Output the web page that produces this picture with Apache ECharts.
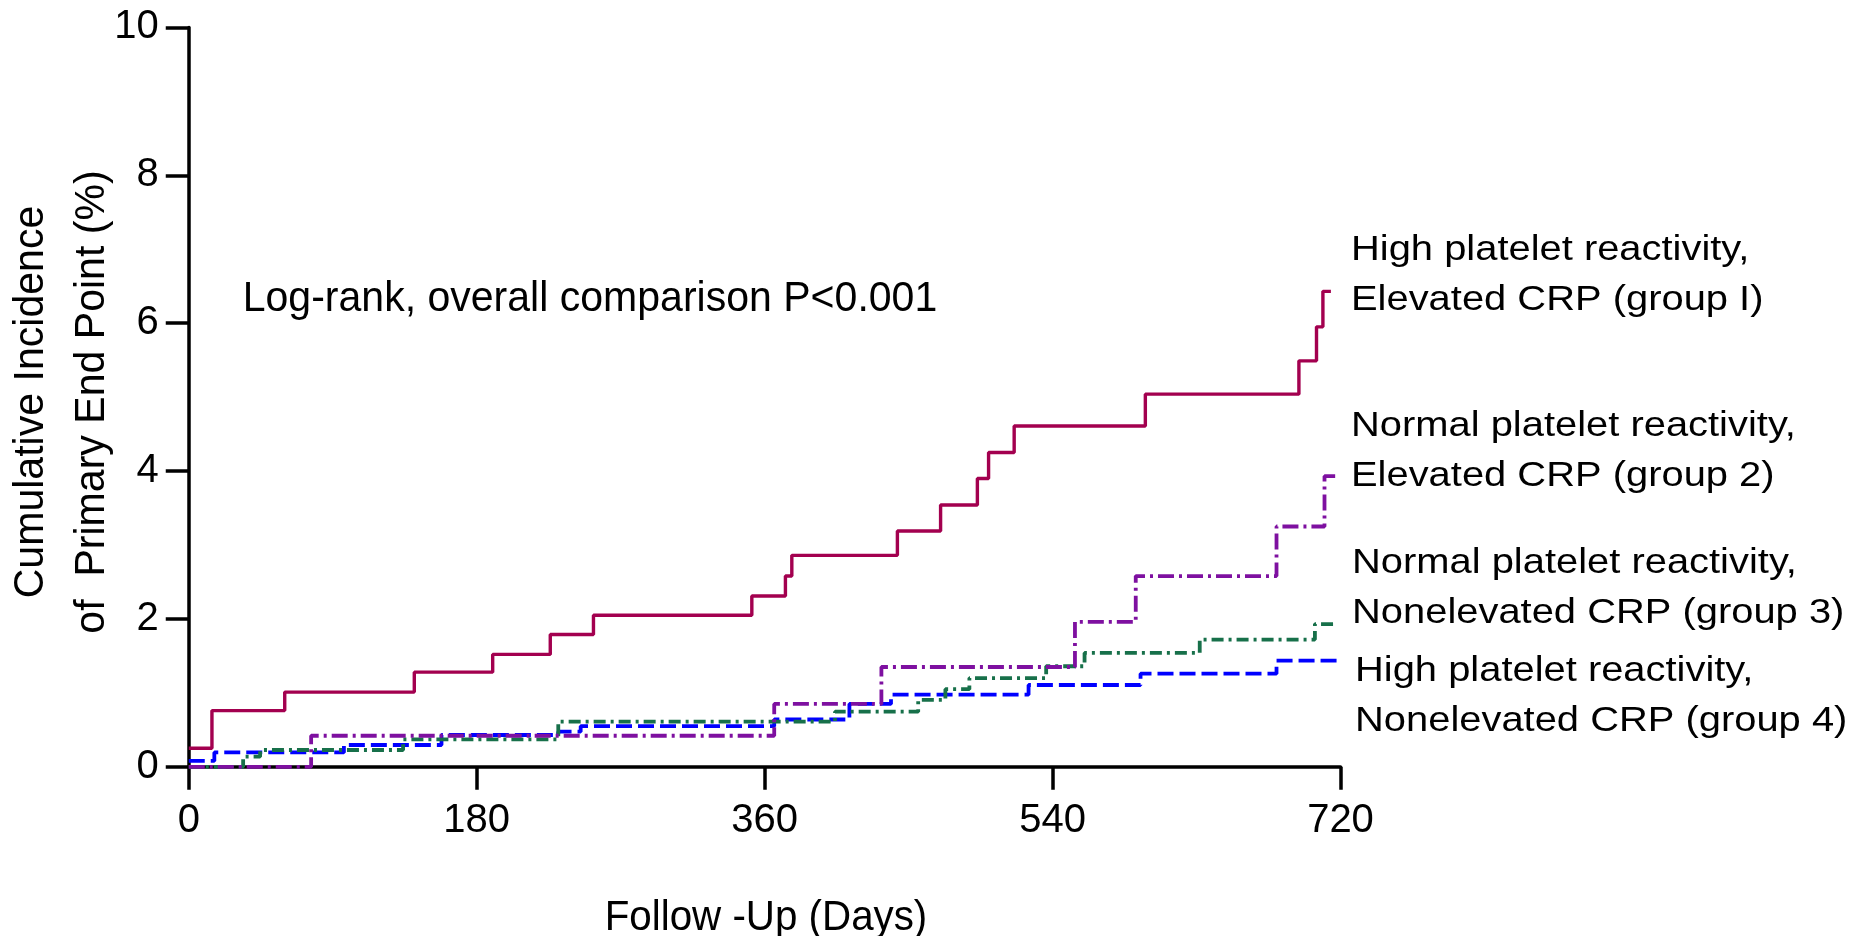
<!DOCTYPE html>
<html>
<head>
<meta charset="utf-8">
<script src="https://cdn.jsdelivr.net/npm/echarts@6.0.0/dist/echarts.min.js"></script>
<style>
html,body{margin:0;padding:0;background:#fff;}
#chart{width:1870px;height:936px;}
</style>
</head>
<body>
<div id="chart"></div>
<script>
// ---- Data ----
const xTicks = [0, 180, 360, 540, 720];
const yTicks = [0, 2, 4, 6, 8, 10];

const g1Days = [0, 14.5, 60, 141, 190, 226, 253, 352, 373, 377, 443, 470, 493, 500, 516, 598, 694, 705, 709, 714];
const g1Vals = [0.25, 0.76, 1.01, 1.28, 1.52, 1.79, 2.05, 2.31, 2.58, 2.86, 3.19, 3.54, 3.90, 4.25, 4.61, 5.04, 5.49, 5.95, 6.43, 6.43];

const g2Days = [0, 76.5, 366, 433, 554, 592, 680, 710, 718];
const g2Vals = [0, 0.42, 0.85, 1.35, 1.96, 2.58, 3.25, 3.93, 3.93];

const g3Days = [0, 34, 44.6, 134, 231, 404, 456, 473, 488, 536, 560, 632, 704, 717];
const g3Vals = [0, 0.137, 0.227, 0.37, 0.61, 0.745, 0.905, 1.05, 1.20, 1.36, 1.54, 1.72, 1.93, 1.93];

const g4Days = [0, 16, 97, 158, 231, 245, 366, 413, 439, 525, 595, 680, 720];
const g4Vals = [0.08, 0.195, 0.295, 0.43, 0.475, 0.55, 0.64, 0.85, 0.975, 1.106, 1.26, 1.435, 1.435];

const groupLabels = [
  'High platelet reactivity,\nElevated CRP (group I)',
  'Normal platelet reactivity,\nElevated CRP (group 2)',
  'Normal platelet reactivity,\nNonelevated CRP (group 3)',
  'High platelet reactivity,\nNonelevated CRP (group 4)'
];
const annotationText = 'Log-rank, overall comparison P<0.001';
const xTitle = 'Follow -Up (Days)';
const yTitle = 'Cumulative Incidence\nof  Primary End Point (%)';

function pairs(d, v) { return d.map((x, i) => [x, v[i]]); }

const FONT = '"Liberation Sans", Arial, Helvetica, sans-serif';

const chart = echarts.init(document.getElementById('chart'), null, {renderer: 'canvas'});

function stepSeries(name, days, vals, color, width, dash, z) {
  return {
    name: name, type: 'line', step: 'end', data: pairs(days, vals),
    showSymbol: false, symbol: 'none', z: z, clip: false,
    lineStyle: {color: color, width: width, type: dash},
    emphasis: {disabled: true}
  };
}

const option = {
  animation: false,
  backgroundColor: '#ffffff',
  grid: {left: 188.75, right: 529.5, top: 27.4, bottom: 169.2, containLabel: false},
  xAxis: {
    type: 'value', min: 0, max: 720, interval: 180,
    axisLine: {show: true, onZero: false, lineStyle: {color: '#000', width: 3.5}},
    axisTick: {show: true, inside: false, length: 23, lineStyle: {color: '#000', width: 3.5}},
    axisLabel: {color: '#000', fontSize: 40, fontFamily: FONT, margin: 34, lineHeight: 40,
      formatter: v => xTicks.includes(v) ? String(v) : ''},
    splitLine: {show: false}
  },
  yAxis: {
    type: 'value', min: 0, max: 10, interval: 2,
    axisLine: {show: true, onZero: false, lineStyle: {color: '#000', width: 3.5}},
    axisTick: {show: true, inside: false, length: 23, lineStyle: {color: '#000', width: 3.5}},
    axisLabel: {color: '#000', fontSize: 40, fontFamily: FONT, margin: 30,
      formatter: v => yTicks.includes(v) ? String(v) : ''},
    splitLine: {show: false}
  },
  series: [
    stepSeries('group 4', g4Days, g4Vals, '#0000FF', 3.8, [16, 6], 2),
    stepSeries('group 3', g3Days, g3Vals, '#17704A', 3.8, [12, 5, 3, 5], 3),
    stepSeries('group 2', g2Days, g2Vals, '#7E10A0', 3.8, [16, 5, 3, 5], 4),
    stepSeries('group I', g1Days, g1Vals, '#A3004F', 3.4, 'solid', 5)
  ],
  graphic: [
    {type: 'text', x: 242.7, y: 299, scaleX: 0.977,
      style: {text: annotationText, fontSize: 42, fontFamily: FONT, fill: '#000', align: 'left', verticalAlign: 'middle'}},
    {type: 'text', x: 766, y: 918, scaleX: 0.96,
      style: {text: xTitle, fontSize: 42, fontFamily: FONT, fill: '#000', align: 'center', verticalAlign: 'middle'}},
    {type: 'text', x: 61.5, y: 402, rotation: Math.PI / 2, scaleX: 0.955,
      style: {text: yTitle, fontSize: 43, lineHeight: 61, fontFamily: FONT, fill: '#000', align: 'center', verticalAlign: 'middle'}},
    {type: 'text', x: 1351, y: 275, scaleX: 1.14,
      style: {text: groupLabels[0], fontSize: 35, lineHeight: 50, fontFamily: FONT, fill: '#000', align: 'left', verticalAlign: 'middle'}},
    {type: 'text', x: 1351, y: 451.5, scaleX: 1.14,
      style: {text: groupLabels[1], fontSize: 35, lineHeight: 50, fontFamily: FONT, fill: '#000', align: 'left', verticalAlign: 'middle'}},
    {type: 'text', x: 1352, y: 588, scaleX: 1.14,
      style: {text: groupLabels[2], fontSize: 35, lineHeight: 50, fontFamily: FONT, fill: '#000', align: 'left', verticalAlign: 'middle'}},
    {type: 'text', x: 1355, y: 696, scaleX: 1.14,
      style: {text: groupLabels[3], fontSize: 35, lineHeight: 50, fontFamily: FONT, fill: '#000', align: 'left', verticalAlign: 'middle'}}
  ]
};
chart.setOption(option);
</script>
</body>
</html>
